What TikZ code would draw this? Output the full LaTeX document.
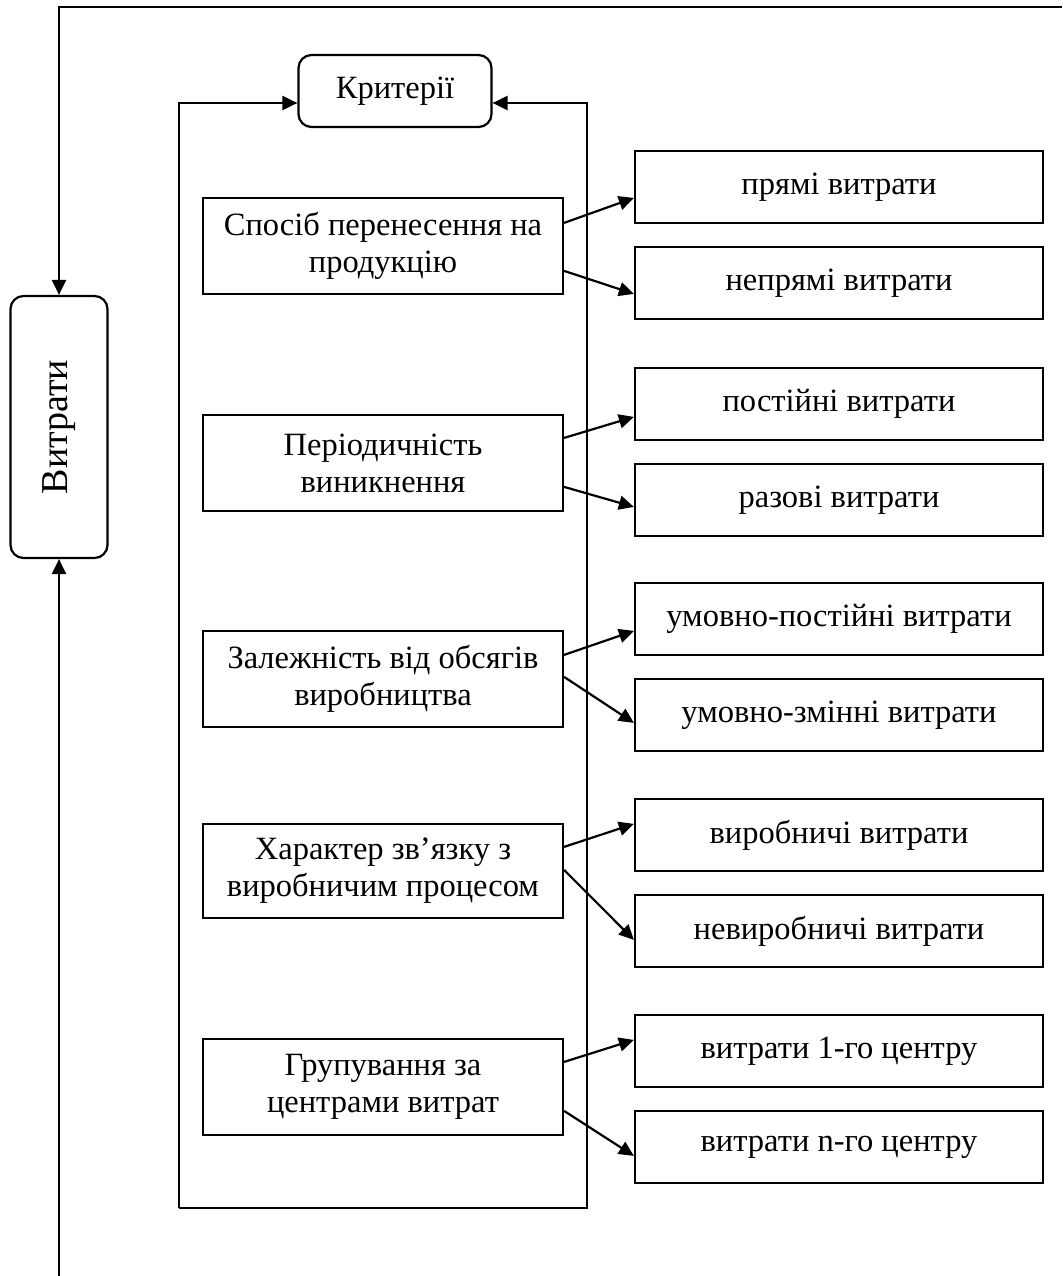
\documentclass[tikz,border=0pt]{standalone}
\usepackage{fontspec}
\setmainfont{Liberation Serif}
\usetikzlibrary{arrows.meta,calc}
\begin{document}
\begin{tikzpicture}[x=1pt,y=-1pt,
  line width=2.2pt,
  every node/.style={font=\fontsize{32.5}{37}\selectfont, inner sep=0pt, align=center},
  crit/.style={draw, line width=2.2pt, minimum width=360pt, minimum height=96pt},
  kind/.style={draw, line width=2.2pt, minimum width=408pt, minimum height=72pt},
  headbox/.style={draw, line width=2.2pt, rounded corners=13pt},
  arr/.style={-{Triangle[length=15pt,width=14pt]}}
]
\useasboundingbox (0,0) rectangle (1062,1276);

% central header and the rotated main node
\node[headbox, minimum width=193pt, minimum height=72pt] (K) at (395,91) {Критерії};
\node[headbox, minimum width=262pt, minimum height=97pt, rotate=90,
      font=\fontsize{38}{40}\selectfont] (V) at (59,427) {Витрати};

% classification criteria
\node[crit] (L1) at (383,246) {Спосіб перенесення на\\продукцію};
\node[crit] (L2) at (383,463) {Періодичність\\виникнення};
\node[crit] (L3) at (383,679) {Залежність від обсягів\\виробництва};
\node[crit, minimum height=94pt] (L4) at (383,871) {Характер зв’язку з\\виробничим процесом};
\node[crit] (L5) at (383,1087) {Групування за\\центрами витрат};

% kinds of costs
\node[kind] (R1) at (839,187) {прямі витрати};
\node[kind] (R2) at (839,283) {непрямі витрати};
\node[kind] (R3) at (839,404) {постійні витрати};
\node[kind] (R4) at (839,500) {разові витрати};
\node[kind] (R5) at (839,619) {умовно-постійні витрати};
\node[kind] (R6) at (839,715) {умовно-змінні витрати};
\node[kind] (R7) at (839,835) {виробничі витрати};
\node[kind] (R8) at (839,931) {невиробничі витрати};
\node[kind] (R9) at (839,1051) {витрати 1-го центру};
\node[kind] (R10) at (839,1147) {витрати n-го центру};

% outer loop: from the right edge round to the main node
\coordinate (topR) at (1062,7);
\coordinate (botL) at (59,1276);
\draw[arr] (topR) -- (59,7) -- (V.east);
\draw[arr] (botL) -- (V.west);

% frame around the criteria, feeding the header from both sides
\coordinate (fTL) at (179,103);
\coordinate (fTR) at (587,103);
\draw[arr] (179,1208) -- (fTL) -- (K.west |- fTL);
\draw[arr] (179,1208) -- (587,1208) -- (fTR) -- (K.east |- fTR);

% criteria to kinds
\draw[arr] ([yshift=-26pt]L1.north east) -- ([yshift=-48pt]R1.north west);
\draw[arr] ([yshift=-74pt]L1.north east) -- ([yshift=-48pt]R2.north west);
\draw[arr] ([yshift=-24pt]L2.north east) -- ([yshift=-50pt]R3.north west);
\draw[arr] ([yshift=-73pt]L2.north east) -- ([yshift=-44pt]R4.north west);
\draw[arr] ([yshift=-25pt]L3.north east) -- ([yshift=-49pt]R5.north west);
\draw[arr] ([yshift=-47pt]L3.north east) -- ([yshift=-45pt]R6.north west);
\draw[arr] ([yshift=-24pt]L4.north east) -- ([yshift=-26pt]R7.north west);
\draw[arr] ([yshift=-47pt]L4.north east) -- ([yshift=-46pt]R8.north west);
\draw[arr] ([yshift=-24pt]L5.north east) -- ([yshift=-26pt]R9.north west);
\draw[arr] ([yshift=-73pt]L5.north east) -- ([yshift=-46pt]R10.north west);
\end{tikzpicture}
\end{document}
